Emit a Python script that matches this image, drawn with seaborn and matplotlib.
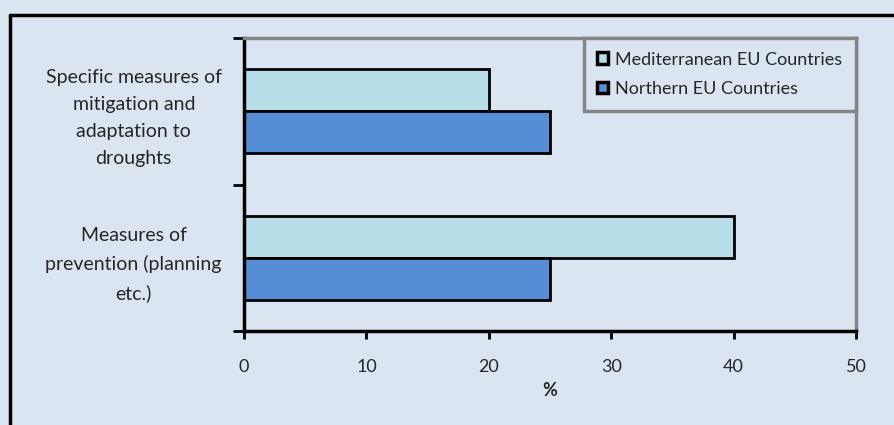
import matplotlib
matplotlib.use("Agg")
import matplotlib.pyplot as plt
import seaborn as sns
import pandas as pd
from matplotlib.lines import Line2D
from matplotlib.patches import Patch

categories = ["Specific measures of\nmitigation and\nadaptation to\ndroughts",
              "Measures of\nprevention (planning\netc.)"]
series_names = ["Mediterranean EU Countries", "Northern EU Countries"]
mediterranean = [20, 40]
northern = [25, 25]
x_ticks = [0, 10, 20, 30, 40, 50]

bg = "#dbe5f1"
colors = ["#b7dee8", "#558ed5"]

sns.set_theme(style="white")
plt.rcParams['font.family'] = ['Lato', 'DejaVu Sans']

df = pd.DataFrame({
    "category": categories * 2,
    "series": [series_names[0]] * 2 + [series_names[1]] * 2,
    "value": mediterranean + northern,
})

fig = plt.figure(figsize=(8.94, 4.25), dpi=100, facecolor=bg)
ax = fig.add_axes([244/894, 1-331/425, (856-244)/894, (331-38)/425])
ax.set_facecolor(bg)

sns.barplot(data=df, y="category", x="value", hue="series", order=categories,
            hue_order=series_names, palette=colors, saturation=1, width=0.57, orient="h",
            edgecolor="black", linewidth=2, ax=ax, legend=False)

ax.set_xlim(0, 50)
ax.set_ylim(1.5, -0.5)
ax.set_xticks(x_ticks)
ax.set_xticklabels([str(t) for t in x_ticks], fontsize=13)
ax.tick_params(axis="x", bottom=True, direction="out", length=6, width=2,
               color="black", pad=14)
ax.set_yticks([0, 1])
ax.set_yticklabels(categories, fontsize=14)
for lbl in ax.get_yticklabels():
    lbl.set_multialignment("center")
    lbl.set_linespacing(1.72)
ax.tick_params(axis="y", which="major", left=True, length=0, pad=16)
ax.set_yticks([-0.5, 0.5, 1.5], minor=True)
ax.tick_params(axis="y", which="minor", left=True, direction="out", length=8, width=2,
               color="black")
ax.set_xlabel("%", fontsize=13, fontweight="bold", labelpad=5)
ax.set_ylabel("")

for side in ["left", "bottom"]:
    ax.spines[side].set_color("black")
    ax.spines[side].set_linewidth(2.5)
for side in ["top", "right"]:
    ax.spines[side].set_color("#858585")
    ax.spines[side].set_linewidth(2.5)

handles = [Patch(facecolor=c, edgecolor="black", linewidth=2.5) for c in colors]
leg = ax.legend(handles, series_names, loc="upper right", bbox_to_anchor=(1.0, 1.0),
                fontsize=13, frameon=True, fancybox=False, facecolor=bg,
                edgecolor="#858585", handlelength=0.6, handleheight=0.6,
                handletextpad=0.4, borderpad=0.75, labelspacing=0.75, borderaxespad=0)
leg.get_frame().set_linewidth(2.5)
leg.get_frame().set_alpha(1)

# outer chart border (left and top visible)
fig.add_artist(Line2D([10/894, 10/894], [0, 1-15/425], color="black", linewidth=2.5,
                      transform=fig.transFigure))
fig.add_artist(Line2D([10/894, 1], [1-15/425, 1-15/425], color="black", linewidth=2.5,
                      transform=fig.transFigure))

fig.savefig("out.png", dpi=100, facecolor=bg)
